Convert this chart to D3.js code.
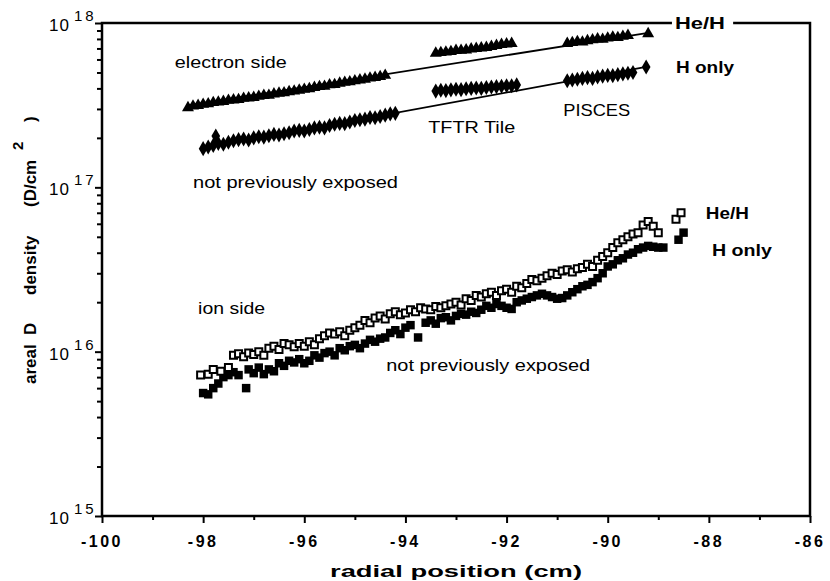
<!DOCTYPE html>
<html><head><meta charset="utf-8">
<script src="https://cdn.jsdelivr.net/npm/d3@7"></script>
<style>body{margin:0;background:#fff}svg{display:block;font-family:"Liberation Sans",Arial,sans-serif}</style>
</head><body><svg id="c" width="830" height="581"></svg>
<script>
// ---------- data ----------
const xTickValues = [-100,-98,-96,-94,-92,-90,-88,-86];
const xMinorValues = [-99,-97,-95,-93,-91,-89,-87];
const yDecades = [15,16,17,18];

// electron side, He/H (filled triangles), [radial cm, D/cm^2]
const elecHeH = [
 [-98.3,3.05e17],[-98.2,3.12e17],[-98.1,3.15e17],[-98.0,3.2e17],[-97.9,3.22e17],[-97.8,3.28e17],[-97.7,3.3e17],[-97.6,3.33e17],
 [-97.5,3.38e17],[-97.4,3.4e17],[-97.3,3.42e17],[-97.2,3.48e17],[-97.1,3.5e17],[-97.0,3.52e17],[-96.9,3.58e17],[-96.8,3.62e17],
 [-96.7,3.63e17],[-96.6,3.7e17],[-96.5,3.74e17],[-96.4,3.76e17],[-96.3,3.82e17],[-96.2,3.85e17],[-96.1,3.9e17],[-96.0,3.95e17],
 [-95.9,3.98e17],[-95.8,4.05e17],[-95.7,4.1e17],[-95.6,4.12e17],[-95.5,4.2e17],[-95.4,4.22e17],[-95.3,4.3e17],[-95.2,4.35e17],
 [-95.1,4.38e17],[-95.0,4.45e17],[-94.9,4.5e17],[-94.8,4.55e17],[-94.7,4.62e17],[-94.6,4.66e17],[-94.5,4.72e17],[-94.4,4.8e17],
 [-93.4,6.55e17],[-93.3,6.6e17],[-93.2,6.65e17],[-93.1,6.7e17],[-93.0,6.8e17],[-92.9,6.82e17],[-92.8,6.85e17],[-92.7,6.95e17],
 [-92.6,7.0e17],[-92.5,7.05e17],[-92.4,7.1e17],[-92.3,7.2e17],[-92.2,7.3e17],[-92.1,7.4e17],[-92.0,7.45e17],[-91.9,7.5e17],
 [-90.8,7.5e17],[-90.7,7.6e17],[-90.6,7.7e17],[-90.5,7.65e17],[-90.4,7.8e17],[-90.3,7.9e17],[-90.2,8.0e17],[-90.1,7.95e17],
 [-90.0,8.1e17],[-89.9,8.2e17],[-89.8,8.15e17],[-89.7,8.3e17],[-89.6,8.4e17],[-89.2,8.6e17]
];
// electron side, H only (filled diamonds)
const elecH = [
 [-98.0,1.72e17],[-97.9,1.76e17],[-97.8,1.8e17],[-97.75,2.05e17],[-97.7,1.85e17],[-97.6,1.83e17],[-97.5,1.88e17],[-97.4,1.92e17],
 [-97.3,1.95e17],[-97.2,1.97e17],[-97.1,1.94e17],[-97.0,2.0e17],[-96.9,2.03e17],[-96.8,2.02e17],[-96.7,2.06e17],[-96.6,2.1e17],
 [-96.5,2.08e17],[-96.4,2.12e17],[-96.3,2.15e17],[-96.2,2.2e17],[-96.1,2.22e17],[-96.0,2.2e17],[-95.9,2.25e17],[-95.8,2.3e17],
 [-95.7,2.32e17],[-95.6,2.3e17],[-95.5,2.38e17],[-95.4,2.42e17],[-95.3,2.45e17],[-95.2,2.44e17],[-95.1,2.5e17],[-95.0,2.55e17],
 [-94.9,2.58e17],[-94.8,2.6e17],[-94.7,2.66e17],[-94.6,2.65e17],[-94.5,2.7e17],[-94.4,2.75e17],[-94.3,2.8e17],[-94.2,2.82e17],
 [-93.4,3.85e17],[-93.3,3.9e17],[-93.2,3.88e17],[-93.1,3.92e17],[-93.0,3.95e17],[-92.9,3.93e17],[-92.8,3.98e17],[-92.7,4.0e17],
 [-92.6,4.02e17],[-92.5,4.0e17],[-92.4,4.05e17],[-92.3,4.08e17],[-92.2,4.1e17],[-92.1,4.12e17],[-92.0,4.15e17],[-91.9,4.15e17],
 [-91.8,4.2e17],
 [-90.8,4.45e17],[-90.7,4.5e17],[-90.6,4.55e17],[-90.5,4.6e17],[-90.4,4.65e17],[-90.3,4.6e17],[-90.2,4.7e17],[-90.1,4.75e17],
 [-90.0,4.8e17],[-89.9,4.78e17],[-89.8,4.85e17],[-89.7,4.9e17],[-89.6,4.95e17],[-89.5,5.0e17],[-89.24,5.4e17]
];
// fit lines (end points)
const fitHeH = [[-98.3,3.15e17],[-89.2,8.7e17]];
const fitH = [[-98.0,1.73e17],[-89.24,5.4e17]];

// ion side, He/H (open squares)
const ionHeH = [
 [-98.05,0.72e16],[-97.9,0.73e16],[-97.8,0.78e16],[-97.65,0.76e16],[-97.5,0.8e16],[-97.4,0.95e16],[-97.3,0.97e16],[-97.2,0.93e16],
 [-97.1,0.98e16],[-97.0,0.96e16],[-96.9,1.0e16],[-96.8,0.95e16],[-96.7,1.05e16],[-96.6,1.08e16],[-96.5,1.03e16],[-96.4,1.12e16],
 [-96.3,1.1e16],[-96.2,1.07e16],[-96.1,1.12e16],[-96.0,1.08e16],[-95.9,1.15e16],[-95.8,1.1e16],[-95.7,1.2e16],[-95.6,1.25e16],
 [-95.5,1.3e16],[-95.4,1.28e16],[-95.3,1.32e16],[-95.2,1.25e16],[-95.1,1.35e16],[-95.0,1.4e16],[-94.9,1.45e16],[-94.8,1.55e16],
 [-94.7,1.5e16],[-94.6,1.6e16],[-94.5,1.65e16],[-94.4,1.58e16],[-94.3,1.7e16],[-94.2,1.75e16],[-94.1,1.68e16],[-94.0,1.72e16],
 [-93.9,1.8e16],[-93.8,1.75e16],[-93.7,1.85e16],[-93.6,1.82e16],[-93.5,1.8e16],[-93.4,1.88e16],[-93.3,1.85e16],[-93.2,1.9e16],
 [-93.1,1.95e16],[-93.0,2.0e16],[-92.9,1.92e16],[-92.8,2.1e16],[-92.7,2.05e16],[-92.6,2.2e16],[-92.5,2.15e16],[-92.4,2.25e16],
 [-92.3,2.3e16],[-92.2,2.2e16],[-92.1,2.35e16],[-92.0,2.4e16],[-91.9,2.3e16],[-91.8,2.5e16],[-91.7,2.45e16],[-91.6,2.6e16],
 [-91.5,2.75e16],[-91.4,2.7e16],[-91.3,2.8e16],[-91.2,2.9e16],[-91.1,3.0e16],[-91.0,2.95e16],[-90.9,3.1e16],[-90.8,3.15e16],
 [-90.7,3.05e16],[-90.6,3.2e16],[-90.5,3.25e16],[-90.4,3.4e16],[-90.3,3.3e16],[-90.2,3.6e16],[-90.1,3.8e16],[-90.0,4.0e16],
 [-89.9,4.3e16],[-89.8,4.6e16],[-89.7,4.8e16],[-89.6,5.0e16],[-89.5,5.2e16],[-89.4,5.3e16],[-89.3,5.9e16],[-89.2,6.2e16],
 [-89.1,5.8e16],[-89.0,5.3e16],[-88.65,6.4e16],[-88.55,7.0e16]
];
// ion side, H only (filled squares)
const ionH = [
 [-98.0,0.56e16],[-97.9,0.55e16],[-97.8,0.6e16],[-97.7,0.64e16],[-97.6,0.7e16],[-97.5,0.72e16],[-97.4,0.75e16],[-97.3,0.72e16],
 [-97.15,0.6e16],[-97.1,0.78e16],[-97.0,0.74e16],[-96.9,0.8e16],[-96.8,0.73e16],[-96.7,0.78e16],[-96.6,0.76e16],[-96.5,0.85e16],
 [-96.4,0.82e16],[-96.3,0.88e16],[-96.2,0.86e16],[-96.1,0.9e16],[-96.0,0.85e16],[-95.9,0.88e16],[-95.8,0.95e16],[-95.7,0.92e16],
 [-95.6,0.98e16],[-95.5,1.0e16],[-95.4,0.95e16],[-95.3,1.05e16],[-95.2,1.02e16],[-95.1,1.08e16],[-95.0,1.1e16],[-94.9,1.05e16],
 [-94.8,1.12e16],[-94.7,1.18e16],[-94.6,1.15e16],[-94.5,1.2e16],[-94.4,1.22e16],[-94.3,1.3e16],[-94.2,1.35e16],[-94.1,1.28e16],
 [-94.0,1.4e16],[-93.9,1.45e16],[-93.75,1.22e16],[-93.6,1.5e16],[-93.5,1.55e16],[-93.4,1.48e16],[-93.3,1.6e16],[-93.2,1.62e16],
 [-93.1,1.55e16],[-93.0,1.65e16],[-92.9,1.7e16],[-92.8,1.68e16],[-92.7,1.75e16],[-92.6,1.72e16],[-92.5,1.8e16],[-92.4,1.9e16],
 [-92.3,1.85e16],[-92.2,1.95e16],[-92.1,1.9e16],[-92.0,1.85e16],[-91.9,1.82e16],[-91.8,2.0e16],[-91.7,2.05e16],[-91.6,2.1e16],
 [-91.5,2.15e16],[-91.4,2.2e16],[-91.3,2.25e16],[-91.2,2.2e16],[-91.1,2.15e16],[-91.0,2.1e16],[-90.9,2.12e16],[-90.8,2.2e16],
 [-90.7,2.3e16],[-90.6,2.4e16],[-90.5,2.5e16],[-90.4,2.55e16],[-90.3,2.65e16],[-90.2,2.8e16],[-90.1,3.0e16],[-90.0,3.3e16],
 [-89.9,3.4e16],[-89.8,3.6e16],[-89.7,3.7e16],[-89.6,3.9e16],[-89.5,4.0e16],[-89.4,4.2e16],[-89.3,4.3e16],[-89.2,4.4e16],
 [-89.1,4.35e16],[-89.0,4.3e16],[-88.9,4.3e16],[-88.6,4.8e16],[-88.5,5.3e16]
];

// annotations [text, x(cm), y(D/cm^2), bold, width px]
const notes = [
 ["electron side", -98.56, 5.32e17, false, 112],
 ["not previously exposed", -98.2, 9.9e16, false, 205],
 ["TFTR Tile", -93.55, 2.14e17, false, 87],
 ["PISCES", -90.88, 2.72e17, false, 67],
 ["H only", -88.65, 4.96e17, true, 58],
 ["ion side", -98.1, 1.69e16, false, 67],
 ["not previously exposed", -94.38, 7.62e15, false, 204],
 ["He/H", -88.06, 6.41e16, true, 43],
 ["H only", -87.94, 3.82e16, true, 60]
];
// gap in top frame line holding the "He/H" key label (cm)
const topKeyGap = [-88.73, -87.52];
// y-axis title pieces [text, offset along axis px]
const yTitleParts = [["areal",0],["D",49],["density",89],["(D/cm",177]];

// ---------- drawing ----------
const svg = d3.select("#c");
const x = d3.scaleLinear().domain([-100,-86]).range([102,810]);
const y = d3.scaleLog().domain([1e15,1e18]).range([516,23]);
const X0 = x.range()[0], X1 = x.range()[1], Y0 = y.range()[0], Y1 = y.range()[1];

// x axis
const xAxisG = svg.append("g").attr("transform",`translate(0,${Y0})`)
  .call(d3.axisBottom(x).tickValues(xTickValues.concat(xMinorValues)).tickSize(6).tickFormat(""));
xAxisG.select(".domain").remove();
xAxisG.selectAll(".tick line").attr("stroke","#000").attr("stroke-width",2)
  .attr("y2", d => xTickValues.includes(d) ? 7 : 4);
svg.append("g").selectAll("text").data(xTickValues).join("text")
  .attr("x", d => x(d)).attr("y", Y0 + 31).attr("text-anchor","middle")
  .attr("font-size",16).attr("font-weight","bold").attr("letter-spacing","2.5px")
  .text(d => (d < 0 ? "-" : "") + Math.abs(d));

// y axis ticks (log minor + major)
const yTickVals = [];
for (let e = 15; e < 18; e++) for (let m = 1; m < 10; m++) yTickVals.push(m * Math.pow(10, e));
yTickVals.push(1e18);
const yAxisG = svg.append("g").attr("transform",`translate(${X0},0)`)
  .call(d3.axisLeft(y).tickValues(yTickVals).tickSize(6).tickFormat(""));
yAxisG.select(".domain").remove();
yAxisG.selectAll(".tick line").attr("stroke","#000").attr("stroke-width",2)
  .attr("x2", d => (Math.abs(Math.log10(d) - Math.round(Math.log10(d))) < 1e-9) ? -7 : -5);

// y decade labels
const yl = svg.append("g").selectAll("text").data(yDecades).join("text")
  .attr("x", 49).attr("y", d => y(Math.pow(10,d)) + 8)
  .attr("font-size",17).attr("letter-spacing","1px");
yl.append("tspan").text("10");
yl.append("tspan").attr("dx",4).attr("dy",-10).attr("font-size",15).attr("letter-spacing","3px").text(d => d);

// frame
const gx0 = x(topKeyGap[0]), gx1 = x(topKeyGap[1]);
svg.append("path").attr("fill","none").attr("stroke","#000").attr("stroke-width",2.5)
  .attr("d", `M${gx0},${Y1}H${X0}V${Y0}H${X1}V${Y1}H${gx1}`);
svg.append("text").attr("x", gx0 + 3).attr("y", Y1 + 6)
  .attr("font-size",17).attr("font-weight","bold")
  .attr("textLength",50).attr("lengthAdjust","spacingAndGlyphs").text("He/H");

// fit lines
const line = d3.line().x(d => x(d[0])).y(d => y(d[1]));
[fitHeH, fitH].forEach(f => svg.append("path").attr("d", line(f))
  .attr("fill","none").attr("stroke","#000").attr("stroke-width",1.8));

// electron markers
svg.append("g").selectAll("path").data(elecHeH).join("path")
  .attr("transform", d => `translate(${x(d[0])},${y(d[1])})`)
  .attr("d", d3.symbol(d3.symbolTriangle, 62)).attr("fill","#000");
svg.append("g").selectAll("path").data(elecH).join("path")
  .attr("transform", d => `translate(${x(d[0])},${y(d[1])})`)
  .attr("d", d3.symbol(d3.symbolDiamond, 66)).attr("fill","#000");

// ion markers
svg.append("g").selectAll("path").data(ionH).join("path")
  .attr("transform", d => `translate(${x(d[0])},${y(d[1])})`)
  .attr("d", d3.symbol(d3.symbolSquare, 72)).attr("fill","#000");
svg.append("g").selectAll("path").data(ionHeH).join("path")
  .attr("transform", d => `translate(${x(d[0])},${y(d[1])})`)
  .attr("d", d3.symbol(d3.symbolSquare, 49)).attr("fill","#fff")
  .attr("stroke","#000").attr("stroke-width",2);

// annotations
svg.append("g").selectAll("text").data(notes).join("text")
  .attr("x", d => x(d[1])).attr("y", d => y(d[2]))
  .attr("font-size",17).attr("font-weight", d => d[3] ? "bold" : "normal")
  .attr("textLength", d => d[4]).attr("lengthAdjust","spacingAndGlyphs")
  .text(d => d[0]);

// axis titles
svg.append("text").attr("x", (X0 + X1)/2).attr("y", 577).attr("text-anchor","middle")
  .attr("font-size",17).attr("font-weight","bold")
  .attr("textLength",252).attr("lengthAdjust","spacingAndGlyphs").text("radial position (cm)");
const yt = svg.append("text").attr("transform","translate(36,384) rotate(-90)")
  .attr("font-size",17).attr("font-weight","bold");
yTitleParts.forEach(p => yt.append("tspan").attr("x", p[1]).attr("y", 0).text(p[0]));
yt.append("tspan").attr("x",234).attr("y",-13).attr("font-size",15).text("2");
yt.append("tspan").attr("x",262).attr("y",0).text(")");
</script></body></html>
